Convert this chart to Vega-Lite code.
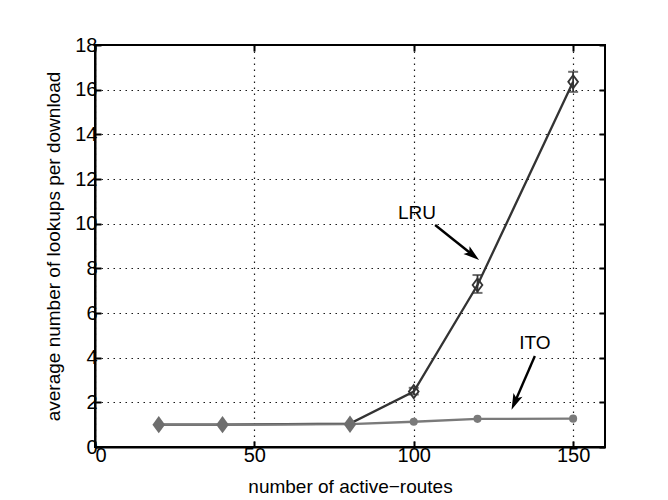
{
  "$schema": "https://vega.github.io/schema/vega-lite/v6.json",
  "width": 510,
  "height": 402,
  "autosize": {"type": "none"},
  "padding": {"left": 95, "top": 45, "right": 63, "bottom": 53},
  "background": "white",
  "config": {
    "font": "Liberation Sans",
    "view": {"stroke": "black", "strokeWidth": 2},
    "axis": {
      "domainColor": "black",
      "domainWidth": 2,
      "tickColor": "black",
      "tickWidth": 2,
      "tickSize": -6,
      "labelFont": "Liberation Sans",
      "labelFontSize": 20,
      "labelColor": "black",
      "titleFont": "Liberation Sans",
      "titleFontSize": 19,
      "titleFontWeight": "normal",
      "titleColor": "black",
      "gridColor": "black",
      "gridDash": [1.5, 4.5],
      "gridWidth": 1.2,
      "gridOpacity": 0.9
    }
  },
  "datasets": {
    "series": [
      {"x": 20, "series": "LRU", "y": 1.0},
      {"x": 40, "series": "LRU", "y": 1.0},
      {"x": 80, "series": "LRU", "y": 1.05},
      {"x": 100, "series": "LRU", "y": 2.48, "lo": 2.35, "hi": 2.65},
      {"x": 120, "series": "LRU", "y": 7.25, "lo": 6.9, "hi": 7.7},
      {"x": 150, "series": "LRU", "y": 16.35, "lo": 15.9, "hi": 16.8},
      {"x": 20, "series": "ITO", "y": 1.0},
      {"x": 40, "series": "ITO", "y": 1.0},
      {"x": 80, "series": "ITO", "y": 1.02},
      {"x": 100, "series": "ITO", "y": 1.13},
      {"x": 120, "series": "ITO", "y": 1.26},
      {"x": 150, "series": "ITO", "y": 1.27}
    ],
    "notes": [
      {"label": "LRU", "tx": 101, "ty": 10.5, "x1": 106.7, "y1": 9.94, "x2": 118.3, "y2": 8.62},
      {"label": "ITO", "tx": 138, "ty": 4.66, "x1": 138, "y1": 4.07, "x2": 131.8, "y2": 2.04}
    ]
  },
  "resolve": {"axis": {"x": "independent", "y": "independent"}},
  "layer": [
    {
      "data": {"name": "series"},
      "transform": [{"filter": "datum.series === 'LRU'"}],
      "mark": {"type": "line", "color": "#333333", "strokeWidth": 2.3},
      "encoding": {
        "x": {"field": "x", "type": "quantitative", "scale": {"domain": [0, 160], "nice": false},
              "axis": {"values": [0, 50, 100, 150], "title": "number of active\u2212routes", "grid": true, "labelPadding": 4, "titleY": 30, "titleBaseline": "top", "labelFontSize": 20, "titleFontSize": 19}},
        "y": {"field": "y", "type": "quantitative", "scale": {"domain": [0, 18], "nice": false},
              "axis": {"values": [0, 2, 4, 6, 8, 10, 12, 14, 16, 18], "title": "average number of lookups per download", "grid": true, "labelPadding": 4, "titleX": -32, "titleBaseline": "bottom", "labelFontSize": 20, "titleFontSize": 19}}
      }
    },
    {
      "data": {"name": "series"},
      "transform": [{"filter": "datum.series === 'ITO'"}],
      "mark": {"type": "line", "color": "#7a7a7a", "strokeWidth": 2.3},
      "encoding": {
        "x": {"field": "x", "type": "quantitative", "axis": {"orient": "top", "values": [0, 50, 100, 150], "labels": false, "title": null, "grid": false, "domain": false}},
        "y": {"field": "y", "type": "quantitative", "axis": {"orient": "right", "values": [0, 2, 4, 6, 8, 10, 12, 14, 16, 18], "labels": false, "title": null, "grid": false, "domain": false}}
      }
    },
    {
      "data": {"name": "series"},
      "transform": [{"filter": "datum.series === 'LRU' && isValid(datum.lo)"}],
      "mark": {"type": "rule", "color": "#333333", "strokeWidth": 1.8},
      "encoding": {
        "x": {"field": "x", "type": "quantitative", "axis": null},
        "y": {"field": "lo", "type": "quantitative", "axis": null},
        "y2": {"field": "hi"}
      }
    },
    {
      "data": {"name": "series"},
      "transform": [{"filter": "datum.series === 'LRU' && isValid(datum.lo)"}],
      "mark": {"type": "tick", "orient": "horizontal", "color": "#333333", "size": 10, "thickness": 2},
      "encoding": {
        "x": {"field": "x", "type": "quantitative", "axis": null},
        "y": {"field": "lo", "type": "quantitative", "axis": null}
      }
    },
    {
      "data": {"name": "series"},
      "transform": [{"filter": "datum.series === 'LRU' && isValid(datum.hi)"}],
      "mark": {"type": "tick", "orient": "horizontal", "color": "#333333", "size": 10, "thickness": 2},
      "encoding": {
        "x": {"field": "x", "type": "quantitative", "axis": null},
        "y": {"field": "hi", "type": "quantitative", "axis": null}
      }
    },
    {
      "data": {"name": "series"},
      "transform": [{"filter": "datum.series === 'LRU' && datum.x >= 100"}],
      "mark": {"type": "point", "shape": "M0,-1L0.75,0L0,1L-0.75,0Z", "filled": false, "color": "#333333", "strokeWidth": 1.8, "size": 170, "opacity": 1},
      "encoding": {
        "x": {"field": "x", "type": "quantitative", "axis": null},
        "y": {"field": "y", "type": "quantitative", "axis": null}
      }
    },
    {
      "data": {"name": "series"},
      "transform": [{"filter": "datum.series === 'ITO' && datum.x <= 80"}],
      "mark": {"type": "point", "shape": "M0,-1.1L0.8,0L0,1.1L-0.8,0Z", "filled": true, "color": "#6e6e6e", "size": 250, "opacity": 1},
      "encoding": {
        "x": {"field": "x", "type": "quantitative", "axis": null},
        "y": {"field": "y", "type": "quantitative", "axis": null}
      }
    },
    {
      "data": {"name": "series"},
      "transform": [{"filter": "datum.series === 'ITO' && datum.x >= 100"}],
      "mark": {"type": "circle", "color": "#7a7a7a", "size": 65, "opacity": 1},
      "encoding": {
        "x": {"field": "x", "type": "quantitative", "axis": null},
        "y": {"field": "y", "type": "quantitative", "axis": null}
      }
    },
    {
      "data": {"name": "notes"},
      "mark": {"type": "text", "font": "Liberation Sans", "fontSize": 19, "color": "black", "align": "center", "baseline": "middle"},
      "encoding": {
        "x": {"field": "tx", "type": "quantitative", "axis": null},
        "y": {"field": "ty", "type": "quantitative", "axis": null},
        "text": {"field": "label"}
      }
    },
    {
      "data": {"name": "notes"},
      "mark": {"type": "rule", "color": "black", "strokeWidth": 2.4},
      "encoding": {
        "x": {"field": "x1", "type": "quantitative", "axis": null},
        "y": {"field": "y1", "type": "quantitative", "axis": null},
        "x2": {"field": "x2"},
        "y2": {"field": "y2"}
      }
    },
    {
      "data": {"name": "notes"},
      "transform": [{"filter": "datum.label === 'LRU'"}],
      "mark": {"type": "point", "shape": "M0,-1L0.55,0.8L0,0.4L-0.55,0.8Z", "filled": true, "color": "black", "size": 320, "angle": 128.5, "opacity": 1},
      "encoding": {
        "x": {"field": "x2", "type": "quantitative", "axis": null},
        "y": {"field": "y2", "type": "quantitative", "axis": null}
      }
    },
    {
      "data": {"name": "notes"},
      "transform": [{"filter": "datum.label === 'ITO'"}],
      "mark": {"type": "point", "shape": "M0,-1L0.55,0.8L0,0.4L-0.55,0.8Z", "filled": true, "color": "black", "size": 320, "angle": 203.5, "opacity": 1},
      "encoding": {
        "x": {"field": "x2", "type": "quantitative", "axis": null},
        "y": {"field": "y2", "type": "quantitative", "axis": null}
      }
    }
  ]
}
